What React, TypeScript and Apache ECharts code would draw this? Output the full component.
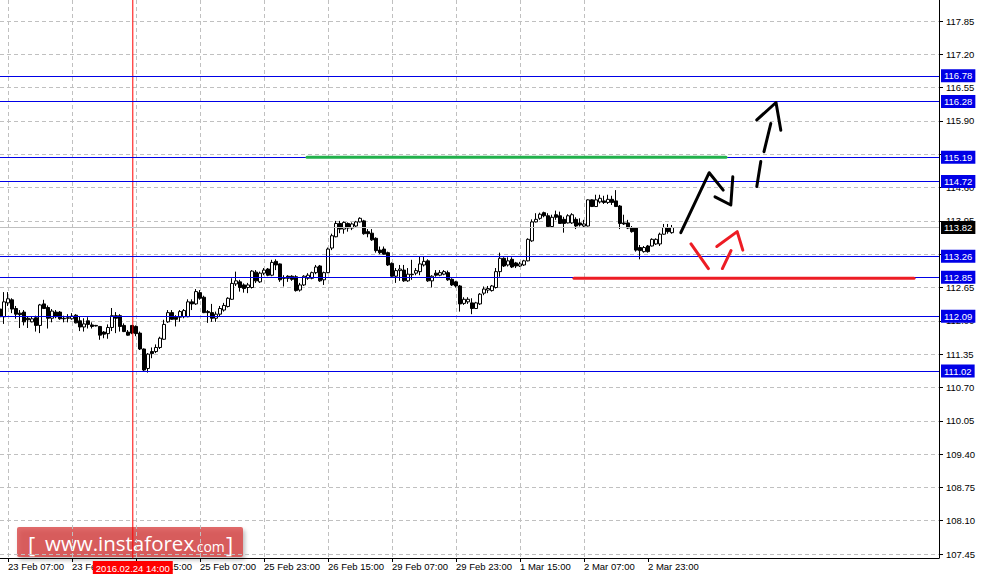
import React, { useEffect, useRef } from 'react';
import * as echarts from 'echarts';

// ---------- data ----------
// hourly candles, index 0 = 23 Feb 07:00 (first visible candle is index -2)
const FIRST_INDEX = -2;
// [open, close, low, high]
const OHLC: number[][] = [
  [112.23, 112.08, 111.96, 112.31], [112.08, 112.37, 111.94, 112.56],
  [112.35, 112.43, 112.29, 112.56], [112.41, 112.23, 112.15, 112.44], [112.24, 112.13, 112.04, 112.29], [112.15, 112.12, 111.86, 112.21],
  [112.17, 111.98, 111.91, 112.21], [112.05, 112.02, 111.86, 112.08], [111.98, 112.04, 111.97, 112.08], [112.06, 111.91, 111.79, 112.10],
  [111.91, 112.31, 111.76, 112.33], [112.33, 112.24, 112.23, 112.41], [112.26, 112.05, 111.85, 112.30], [112.05, 112.19, 111.97, 112.23],
  [112.17, 112.08, 112.05, 112.21], [112.17, 112.04, 112.02, 112.19], [112.05, 112.04, 111.97, 112.10], [112.05, 112.06, 111.97, 112.13],
  [112.04, 112.09, 112.02, 112.15], [112.11, 111.96, 111.95, 112.13], [112.00, 111.88, 111.80, 112.08], [111.88, 111.94, 111.79, 112.05],
  [112.00, 111.93, 111.85, 112.07], [111.92, 111.89, 111.85, 111.97], [111.91, 111.90, 111.89, 111.92], [111.89, 111.72, 111.63, 111.90],
  [111.78, 111.74, 111.66, 111.80], [111.75, 111.87, 111.65, 111.93], [111.87, 112.10, 111.80, 112.25], [112.10, 112.05, 111.76, 112.17],
  [112.10, 111.89, 111.79, 112.13], [111.91, 111.79, 111.78, 111.95], [111.78, 111.72, 111.71, 111.82], [111.91, 111.76, 111.74, 111.91],
  [111.89, 111.75, 111.70, 111.91], [111.76, 111.45, 111.43, 111.79], [111.45, 111.04, 111.02, 111.46], [111.07, 111.35, 110.99, 111.37],
  [111.40, 111.36, 111.27, 111.48], [111.40, 111.48, 111.37, 111.54], [111.48, 111.66, 111.45, 111.69], [111.64, 111.93, 111.63, 112.02],
  [111.98, 112.16, 111.96, 112.21], [112.16, 112.03, 112.02, 112.21], [112.07, 112.03, 111.89, 112.11], [112.07, 112.18, 111.98, 112.21],
  [112.08, 112.20, 112.05, 112.23], [112.08, 112.37, 112.07, 112.42], [112.37, 112.33, 112.21, 112.42], [112.33, 112.57, 112.31, 112.62],
  [112.55, 112.44, 112.41, 112.60], [112.46, 112.16, 112.15, 112.49], [112.18, 112.16, 111.96, 112.21], [112.16, 112.05, 111.98, 112.33],
  [112.05, 112.13, 111.98, 112.18], [112.13, 112.24, 112.09, 112.29], [112.21, 112.30, 112.18, 112.35], [112.28, 112.44, 112.26, 112.46],
  [112.42, 112.73, 112.41, 112.83], [112.72, 112.78, 112.68, 112.96], [112.76, 112.65, 112.57, 112.80], [112.70, 112.63, 112.55, 112.73],
  [112.65, 112.70, 112.54, 112.74], [112.65, 112.97, 112.63, 112.99], [112.95, 112.78, 112.74, 112.99], [112.76, 112.93, 112.74, 112.96],
  [112.93, 112.99, 112.89, 113.03], [113.01, 112.89, 112.87, 113.03], [112.89, 113.14, 112.87, 113.19], [113.16, 113.09, 112.99, 113.20],
  [113.11, 112.80, 112.76, 113.12], [112.84, 112.83, 112.67, 112.89], [112.87, 112.83, 112.76, 112.89], [112.87, 112.81, 112.78, 112.89],
  [112.86, 112.59, 112.57, 112.89], [112.60, 112.70, 112.57, 112.74], [112.70, 112.87, 112.68, 112.89], [112.83, 112.89, 112.80, 112.93],
  [112.83, 112.94, 112.81, 112.96], [112.94, 113.05, 112.91, 113.09], [113.07, 112.78, 112.76, 113.09], [112.80, 112.94, 112.70, 112.96],
  [112.94, 113.40, 112.93, 113.43], [113.42, 113.66, 113.38, 113.70], [113.64, 113.90, 113.63, 113.95], [113.90, 113.79, 113.71, 113.95],
  [113.79, 113.92, 113.70, 113.94], [113.90, 113.81, 113.74, 113.92], [113.81, 113.89, 113.77, 113.92], [113.85, 113.93, 113.83, 113.95],
  [113.93, 114.00, 113.92, 114.02], [113.95, 113.70, 113.68, 113.97], [113.74, 113.70, 113.63, 113.79], [113.71, 113.58, 113.56, 113.79],
  [113.61, 113.37, 113.33, 113.63], [113.38, 113.33, 113.30, 113.45], [113.40, 113.30, 113.29, 113.45], [113.33, 113.09, 113.07, 113.35],
  [113.12, 112.87, 112.86, 113.14], [112.87, 112.98, 112.74, 113.03], [112.98, 113.01, 112.78, 113.09], [112.99, 112.78, 112.76, 113.09],
  [112.78, 112.91, 112.76, 113.03], [112.91, 112.90, 112.80, 113.19], [112.93, 112.98, 112.89, 113.03], [112.96, 113.11, 112.89, 113.25],
  [113.09, 113.16, 113.06, 113.25], [113.17, 112.78, 112.76, 113.20], [112.78, 112.87, 112.65, 112.89], [112.93, 112.89, 112.86, 112.99],
  [112.89, 112.94, 112.87, 112.99], [112.91, 112.96, 112.89, 112.99], [112.94, 112.80, 112.78, 112.98], [112.81, 112.70, 112.68, 112.83],
  [112.76, 112.68, 112.65, 112.78], [112.68, 112.33, 112.18, 112.70], [112.34, 112.42, 112.31, 112.46], [112.37, 112.42, 112.33, 112.46],
  [112.35, 112.24, 112.13, 112.44], [112.24, 112.35, 112.23, 112.37], [112.33, 112.52, 112.31, 112.54], [112.54, 112.62, 112.50, 112.67],
  [112.60, 112.63, 112.54, 112.68], [112.59, 112.68, 112.57, 112.70], [112.65, 112.96, 112.63, 113.03], [112.96, 113.22, 112.86, 113.33],
  [113.22, 113.07, 113.05, 113.24], [113.09, 113.17, 113.06, 113.24], [113.20, 113.05, 113.03, 113.24], [113.13, 113.07, 113.03, 113.15],
  [113.07, 113.11, 113.05, 113.15], [113.09, 113.17, 113.07, 113.19], [113.17, 113.59, 113.16, 113.61], [113.56, 113.93, 113.54, 113.98],
  [113.93, 113.98, 113.92, 114.10], [114.00, 114.08, 113.97, 114.11], [114.11, 114.05, 114.02, 114.13], [114.05, 113.84, 113.83, 114.10],
  [113.84, 114.02, 113.81, 114.07], [114.07, 114.02, 113.97, 114.15], [114.05, 113.90, 113.89, 114.13], [113.98, 113.90, 113.72, 114.03],
  [113.91, 114.05, 113.90, 114.08], [113.91, 114.07, 113.89, 114.10], [113.98, 113.85, 113.79, 114.02], [113.91, 113.87, 113.84, 114.00],
  [113.85, 113.89, 113.83, 113.97], [113.85, 114.36, 113.84, 114.37], [114.36, 114.23, 114.22, 114.37], [114.23, 114.36, 114.22, 114.46],
  [114.32, 114.39, 114.29, 114.46], [114.34, 114.31, 114.28, 114.44], [114.31, 114.37, 114.28, 114.46], [114.37, 114.31, 114.26, 114.44],
  [114.34, 114.23, 114.22, 114.55], [114.24, 113.90, 113.79, 114.26], [113.91, 113.89, 113.87, 114.07], [113.91, 113.81, 113.79, 113.97],
  [113.81, 113.74, 113.72, 113.85], [113.81, 113.38, 113.35, 113.83], [113.43, 113.37, 113.20, 113.48], [113.35, 113.43, 113.33, 113.46],
  [113.46, 113.35, 113.33, 113.48], [113.46, 113.59, 113.45, 113.61], [113.50, 113.59, 113.48, 113.61], [113.50, 113.69, 113.46, 113.72],
  [113.69, 113.82, 113.68, 113.89], [113.82, 113.74, 113.70, 113.89], [113.72, 113.82, 113.70, 113.87],
];

const TIME_LABELS = [
  '23 Feb 07:00', '23 Feb 23:00', '24 Feb 15:00', '25 Feb 07:00', '25 Feb 23:00', '26 Feb 15:00',
  '29 Feb 07:00', '29 Feb 23:00', '1 Mar 15:00', '2 Mar 07:00', '2 Mar 23:00',
];
const HOURS_PER_LABEL = 16;
const HOURS_PER_GRID = 8;
const X_MIN = -2;
const X_MAX = 232.75;

const PRICE_TICK_FIRST = 107.45;
const PRICE_TICK_STEP = 0.65;
const PRICE_MIN = 107.372;
const PRICE_MAX = 118.26;

const LEVELS = [116.78, 116.28, 115.19, 114.72, 113.26, 112.85, 112.09, 111.02];
const CURRENT_PRICE = 113.82;

const MARK_INDEX = 31.2;
const MARK_LABEL = '2016.02.24 14:00';

const GREEN_ZONE = { from: 74.75, to: 179.5, price: 115.19 };
const RED_ZONE = { from: 141.5, to: 226.5, price: 112.83 };

const BLACK_STROKES = [
  [[168.2, 113.72], [175.3, 114.89], [178.8, 114.55]],
  [[176.75, 114.42], [180.7, 114.26], [181.2, 114.81]],
  [[187.2, 114.62], [188.2, 115.11]],
  [[189.0, 115.3], [190.7, 115.85]],
  [[187.2, 115.92], [192.0, 116.26], [193.2, 115.72]],
];
const RED_STROKES = [
  [[170.75, 113.5], [175.1, 113.02]],
  [[178.6, 113.02], [180.75, 113.37]],
  [[177.2, 113.45], [182.3, 113.74], [183.7, 113.38]],
];

// ---------- layout (pixels) ----------
const PLOT_RIGHT = 45;
const PLOT_BOTTOM = 20;
const PX_PER_HOUR = 4;
const PX_PER_PRICE = 51.25;
const FONT = 'Liberation Sans';
const BLUE = '#0000e6';
const GRID_LINE = { color: '#c0c0c0', type: [4, 3], width: 1 };

function xLabel(v: any): string {
  const n = Number(v);
  if (!(n >= -1e-6)) return '';
  const k = n / HOURS_PER_LABEL;
  if (Math.abs(k - Math.round(k)) > 1e-6) return '';
  return TIME_LABELS[Math.round(k)] || '';
}

function buildOption(): any {
  const candleData = OHLC.map((c, k) => [FIRST_INDEX + k, c[0], c[1], c[2], c[3]]);

  const boxLabel = (bg: string) => ({
    show: true,
    position: 'end',
    distance: 2,
    formatter: '{b}',
    color: '#fff',
    backgroundColor: bg,
    padding: [2, 3, 1, 3],
    fontSize: 9.5,
    lineHeight: 10,
    fontFamily: FONT,
  });

  const markSeries = (name: string, color: string, data: any[], label: any, width = 1) => ({
    type: 'line',
    name,
    data: [],
    silent: true,
    showSymbol: false,
    z: 5,
    markLine: {
      silent: true,
      symbol: ['none', 'none'],
      precision: 2,
      lineStyle: { color, width, type: 'solid' },
      label,
      emphasis: { disabled: true },
      data,
    },
  });

  const strokeSeries = (pts: number[][], color: string, width: number, name: string, z = 6) => ({
    type: 'line',
    name,
    data: pts,
    showSymbol: false,
    symbol: 'none',
    silent: true,
    z,
    itemStyle: { color },
    lineStyle: { color, width, cap: 'round', join: 'round' },
  });

  const labelIndices = TIME_LABELS.map((_, k) => k * HOURS_PER_LABEL);

  // helper grids whose edges sit on the first tick, so that ticks counted from min land on the real tick values
  const yTickGridBottom = PLOT_BOTTOM + Math.round((PRICE_TICK_FIRST - PRICE_MIN) * PX_PER_PRICE);
  const xTickGridLeft = Math.round((0 - X_MIN) * PX_PER_HOUR);

  return {
    animation: false,
    backgroundColor: '#ffffff',
    grid: [
      { left: 0, top: 0, right: PLOT_RIGHT, bottom: PLOT_BOTTOM, containLabel: false, outerBoundsMode: 'none' },
      { left: 0, top: 0, right: PLOT_RIGHT, bottom: yTickGridBottom, containLabel: false, outerBoundsMode: 'none' },
      { left: xTickGridLeft, top: 0, right: PLOT_RIGHT, bottom: PLOT_BOTTOM, containLabel: false, outerBoundsMode: 'none' },
    ],
    xAxis: [
      {
        gridIndex: 0,
        type: 'value',
        min: X_MIN,
        max: X_MAX,
        axisLine: { show: true, onZero: false, lineStyle: { color: '#000', width: 1 } },
        axisTick: { show: false },
        axisLabel: { show: false },
        splitLine: { show: false },
      },
      { gridIndex: 1, type: 'value', min: 0, max: 1, show: false },
      {
        gridIndex: 2,
        type: 'value',
        min: 0,
        max: X_MAX,
        interval: HOURS_PER_GRID,
        axisLine: { show: false, onZero: false },
        axisTick: { show: true, length: 4, lineStyle: { color: '#000' }, customValues: labelIndices },
        splitLine: { show: true, showMinLine: true, showMaxLine: false, lineStyle: GRID_LINE },
        axisLabel: {
          show: true,
          margin: 3,
          align: 'left',
          color: '#000',
          fontSize: 9.5,
          fontFamily: FONT,
          showMaxLabel: false,
          formatter: xLabel,
        },
      },
    ],
    yAxis: [
      {
        gridIndex: 0,
        type: 'value',
        position: 'right',
        min: PRICE_MIN,
        max: PRICE_MAX,
        axisLine: { show: true, onZero: false, lineStyle: { color: '#000', width: 1 } },
        axisTick: { show: false },
        axisLabel: { show: false },
        splitLine: { show: false },
      },
      {
        gridIndex: 1,
        type: 'value',
        position: 'right',
        min: PRICE_TICK_FIRST,
        max: PRICE_MAX,
        interval: PRICE_TICK_STEP,
        axisLine: { show: false, onZero: false },
        axisTick: { show: true, length: 4, lineStyle: { color: '#000' } },
        splitLine: { show: true, showMinLine: true, showMaxLine: false, lineStyle: GRID_LINE },
        axisLabel: {
          show: true,
          margin: 7,
          color: '#000',
          fontSize: 9.5,
          fontFamily: FONT,
          showMaxLabel: false,
          formatter: (v: number) => Number(v).toFixed(2),
        },
      },
      { gridIndex: 2, type: 'value', min: 0, max: 1, show: false },
    ],
    series: [
      {
        type: 'candlestick',
        name: 'USDJPY H1',
        data: candleData,
        encode: { x: 0, y: [1, 2, 3, 4] },
        barWidth: 3,
        silent: true,
        itemStyle: {
          color: '#ffffff',
          color0: '#000000',
          borderColor: '#000000',
          borderColor0: '#000000',
          borderWidth: 1,
        },
      },
      markSeries('current', '#c0c0c0', [{ yAxis: CURRENT_PRICE, name: CURRENT_PRICE.toFixed(2) }], boxLabel('#000')),
      markSeries('levels', BLUE, LEVELS.map((v) => ({ yAxis: v, name: v.toFixed(2) })), boxLabel(BLUE)),
      strokeSeries([[MARK_INDEX, PRICE_MIN], [MARK_INDEX, PRICE_MAX]], '#ff0000', 1, 'timeLine', 4),
      markSeries('time', 'rgba(0,0,0,0)', [{ xAxis: MARK_INDEX, name: MARK_LABEL }], { ...boxLabel('#ff0000'), position: 'start', distance: 3 }, 0),
      strokeSeries([[GREEN_ZONE.from, GREEN_ZONE.price], [GREEN_ZONE.to, GREEN_ZONE.price]], '#22b14c', 3, 'green'),
      strokeSeries([[RED_ZONE.from, RED_ZONE.price], [RED_ZONE.to, RED_ZONE.price]], '#ed1c24', 3, 'red'),
      ...BLACK_STROKES.map((s, k) => strokeSeries(s, '#000000', 3, 'black' + k)),
      ...RED_STROKES.map((s, k) => strokeSeries(s, '#ed1c24', 3, 'redArrow' + k)),
    ],
    graphic: [
      {
        type: 'group',
        x: 17,
        y: 527,
        z: 100,
        silent: true,
        children: [
          {
            type: 'rect',
            shape: { x: 0, y: 0, width: 226, height: 30, r: 2 },
            style: {
              fill: 'rgba(213,59,59,0.75)',
              shadowBlur: 4,
              shadowOffsetX: 2,
              shadowOffsetY: 3,
              shadowColor: 'rgba(0,0,0,0.35)',
            },
          },
          {
            type: 'text',
            x: 11,
            y: 17,
            style: { text: '[', fill: '#fff', font: '22px "Open Sans"', textVerticalAlign: 'middle', shadowBlur: 2, shadowColor: 'rgba(0,0,0,0.3)', shadowOffsetY: 1 },
          },
          {
            type: 'text',
            x: 28,
            y: 16,
            style: { text: 'www.instaforex', fill: '#fff', font: '20.5px "Open Sans"', textVerticalAlign: 'middle', shadowBlur: 2, shadowColor: 'rgba(0,0,0,0.3)', shadowOffsetY: 1 },
          },
          {
            type: 'text',
            x: 176,
            y: 19,
            style: { text: '.com', fill: '#fff', font: '14px "Open Sans"', textVerticalAlign: 'middle', shadowBlur: 2, shadowColor: 'rgba(0,0,0,0.3)', shadowOffsetY: 1 },
          },
          {
            type: 'text',
            x: 209,
            y: 17,
            style: { text: ']', fill: '#fff', font: '22px "Open Sans"', textVerticalAlign: 'middle', shadowBlur: 2, shadowColor: 'rgba(0,0,0,0.3)', shadowOffsetY: 1 },
          },
        ],
      },
    ],
  };
}

export default function App() {
  const ref = useRef<HTMLDivElement>(null);
  useEffect(() => {
    if (!ref.current) return;
    const chart = echarts.init(ref.current, undefined, { renderer: 'svg' });
    chart.setOption(buildOption());
    return () => chart.dispose();
  }, []);
  return (
    <div
      ref={ref}
      style={{ position: 'absolute', left: 0, top: 0, width: 984, height: 578, background: '#fff' }}
    />
  );
}
